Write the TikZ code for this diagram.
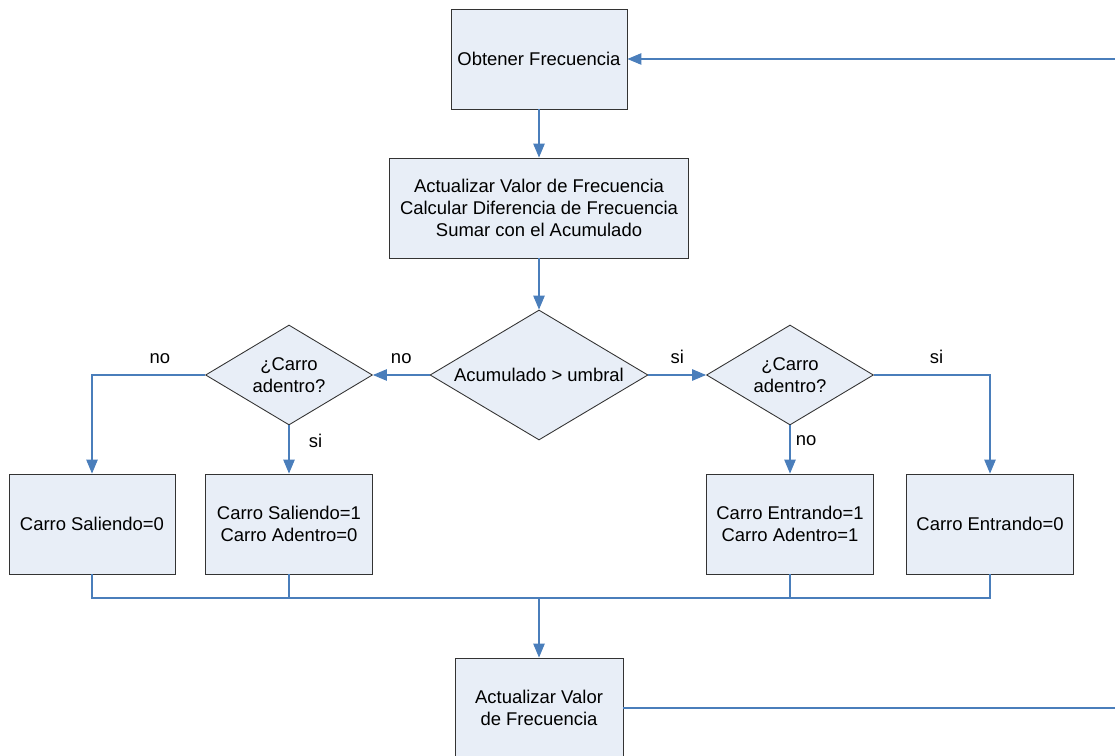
\documentclass[tikz,border=0pt]{standalone}
\usepackage{fontspec}
\setmainfont{Liberation Sans}
\usetikzlibrary{shapes.geometric, positioning, arrows.meta}
\definecolor{boxfill}{RGB}{232,238,247}
\definecolor{flowblue}{RGB}{74,126,187}
\tikzset{
>={Triangle[length=2.8mm, width=2.3mm]}, % solid arrow heads
every node/.style={font=\fontsize{10.5}{12.5}\selectfont, align=center, inner sep=0pt},
proc/.style={draw=black!80, fill=boxfill, line width=0.5pt, minimum height=2cm}, % process boxes
test/.style={diamond, aspect=1.67, draw=black!80, fill=boxfill, line width=0.5pt}, % decisions
flow/.style={draw=flowblue, line width=0.6pt}, % blue connectors
lbl/.style={inner sep=2pt}, % si / no labels
}

\begin{document}
\begin{tikzpicture}[x=0.02cm, y=-0.02cm]
        \useasboundingbox (0,0) rectangle (1115,756);

        \node[proc, minimum width=3.52cm] (obt) at (539,59) {Obtener Frecuencia};
        \node[proc, minimum width=5.98cm] (calc) at (539,208) {Actualizar Valor de Frecuencia\\Calcular Diferencia de Frecuencia\\Sumar con el Acumulado};
        \node[test, minimum width=4.36cm, minimum height=2.6cm] (acum) at (539,375) {Acumulado > umbral};
        \node[test, minimum width=3.34cm, minimum height=2cm] (izq) at (289,375) {¿Carro\\adentro?};
        \node[test, minimum width=3.34cm, minimum height=2cm] (der) at (790,375) {¿Carro\\adentro?};
        \node[proc, minimum width=3.32cm] (sal0) at (92,524) {Carro Saliendo=0};
        \node[proc, minimum width=3.34cm] (sal1) at (289,524) {Carro Saliendo=1\\Carro Adentro=0};
        \node[proc, minimum width=3.34cm] (ent1) at (790,524) {Carro Entrando=1\\Carro Adentro=1};
        \node[proc, minimum width=3.34cm] (ent0) at (990,524) {Carro Entrando=0};
        \node[proc, minimum width=3.36cm] (upd) at (539,708) {Actualizar Valor\\de Frecuencia};

        \coordinate (merge) at (539,598);
        \coordinate (edgeT) at (1115,59);
        \coordinate (edgeB) at (1115,708);

        \draw[flow, ->] (obt) -- (calc);
        \draw[flow, ->] (calc) -- (acum);
        \draw[flow, ->] (acum) -- node[lbl, above=4pt] {no} (izq);
        \draw[flow, ->] (acum) -- node[lbl, above=4pt] {si} (der);
        \draw[flow, ->] (izq.west) -| node[lbl, above=4pt, pos=0.2] {no} (sal0);
        \draw[flow, ->] (izq) -- node[lbl, right=9pt, pos=0.32] {si} (sal1);
        \draw[flow, ->] (der) -- node[lbl, right=1pt, pos=0.32] {no} (ent1);
        \draw[flow, ->] (der.east) -| node[lbl, above=4pt, pos=0.27] {si} (ent0);

        \draw[flow] (sal0) |- (merge);
        \draw[flow] (sal1) |- (merge);
        \draw[flow] (ent1) |- (merge);
        \draw[flow] (ent0) |- (merge);
        \draw[flow, ->] (merge) -- (upd);

        \draw[flow] (upd) -- (edgeB);
        \draw[flow, ->] (edgeT) -- (obt);
    \end{tikzpicture}
\end{document}
